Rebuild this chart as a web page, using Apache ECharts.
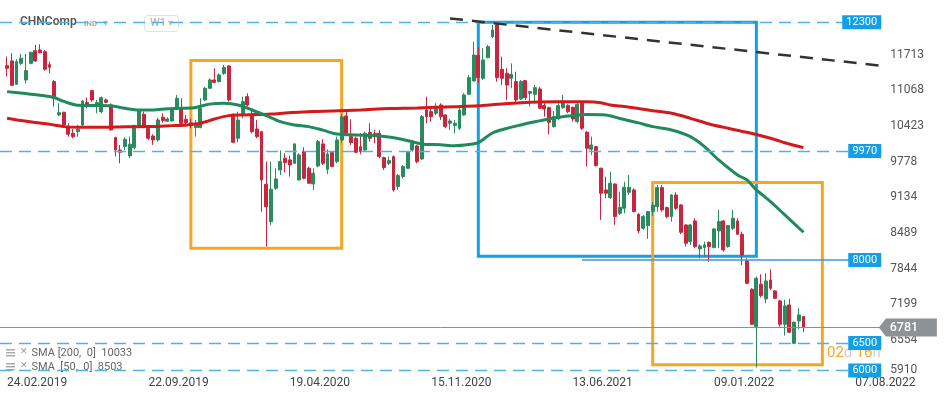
<!DOCTYPE html>
<html><head><meta charset="utf-8">
<script src="https://cdn.jsdelivr.net/npm/echarts@6/dist/echarts.min.js"></script>
<style>html,body{margin:0;padding:0;background:#fff;}#c{width:949px;height:400px;}</style>
</head><body><div id="c"></div>
<script>
// ---------- data ----------
const firstCategory = '17.02.2019';          // empty week before first candle
const firstCandleWeek = '24.02.2019';
const weekCount = 187;
const xTickLabels = ['24.02.2019','22.09.2019','19.04.2020','15.11.2020','13.06.2021','09.01.2022','07.08.2022'];
const yTickLabels = [5910,6554,7199,7844,8489,9134,9778,10423,11068,11713];

const opens = [11516,11600,11179,11558,11257,11558,11787,11799,11769,11534,
11227,10624,10672,10413,10293,10323,10443,10847,11064,10805,
10684,10895,10805,10214,9991,10052,9883,10034,10413,10636,
10383,10244,10172,10582,10510,10515,10744,10744,10546,10480,
10395,10395,10895,11106,11257,11226,11377,11510,10636,10202,
10624,10955,10624,10371,10322,9370,8695,9298,9629,9841,
9811,9750,9449,9961,9660,9377,9702,10100,9642,9943,
9780,10170,10606,10232,10202,10051,9991,10311,10292,10292,
9852,9750,9871,9328,9509,9660,9991,10063,9828,10714,
10684,10654,10805,10624,10473,10431,10383,10624,10998,11239,
11700,11287,11661,12040,12251,11450,11377,11287,11227,10913,
11245,11016,10998,11094,10793,10756,10413,10564,10756,10793,
10763,10504,10835,10311,10003,10051,9660,9268,9129,9376,
8846,8936,9226,9268,8828,8575,8623,8880,8966,9310,
8948,8786,9177,8997,8635,8334,8707,8201,8225,8321,
8225,8526,8707,8243,8575,8707,8466,7984,7472,6797,
7562,7297,7640,7442,7261,6839,7188,6495,6899,6978];
const closes = [11468,11160,11588,11649,11426,11757,11600,11751,11450,11486,
10925,10666,10443,10275,10232,10365,10877,10817,10895,10847,
10937,10853,10353,9991,9949,10184,10094,10431,10715,10413,
10202,10172,10534,10522,10552,10714,10925,10473,10485,10440,
10473,10744,11106,11257,11214,11347,11480,10895,10130,10533,
10865,10804,10322,10232,9448,8966,9280,9467,9780,9762,
9720,10100,9901,9479,9389,9570,10142,9750,9919,9690,
10172,10590,10292,10124,9949,9961,10292,10202,10250,9871,
9672,9798,9268,9527,9690,9949,10112,9780,10594,10594,
10594,10775,10594,10413,10515,10473,10714,10986,11299,11709,
11300,11618,11859,12161,11299,11287,11166,11359,10895,11227,
10937,11046,11118,10744,10732,10491,10594,10793,10853,10684,
10552,10817,10383,10021,10081,9708,9208,9208,9388,8786,
8954,9316,9316,8876,8527,8786,8876,8990,9310,8906,
8786,9177,8936,8502,8303,8635,8243,8255,8273,8243,
8563,8695,8183,8623,8756,8466,8092,7580,6839,7671,
7357,7622,7490,7309,6839,7170,6694,6875,7008,6781];
const highs = [11679,11739,11631,11727,11727,11769,11890,11902,11799,11588,
11257,10835,10684,10473,10371,10443,10895,10937,11076,10895,
10956,10925,10835,10232,10081,10220,10232,10449,10727,10684,
10413,10275,10576,10654,10582,10744,10985,10925,10624,10560,
10533,10925,11136,11287,11468,11377,11528,11528,10654,10684,
10955,11016,10714,10533,10322,9780,9780,9660,9979,9931,
9883,10112,9931,10040,9690,9660,10172,10184,10003,9961,
10232,10640,10684,10546,10232,10292,10323,10473,10353,10353,
9871,9871,9889,9557,9720,9961,10172,10081,10624,10955,
10732,10835,10835,10636,10552,10534,10744,11016,11347,11950,
11850,11829,11890,12251,12281,11679,11468,11558,11407,11257,
11257,11058,11166,11136,10835,10775,10696,10835,10985,10817,
10775,10835,10853,10335,10232,10063,9672,9509,9599,9388,
9238,9418,9539,9298,8846,8816,8888,9050,9358,9358,
8966,9189,9226,9009,8647,8647,8756,8285,8334,8334,
8575,8906,8725,8635,8906,8756,8514,8032,7490,7701,
7743,7761,7833,7460,7279,7279,7297,6887,7128,6990];
const lows = [11317,11155,11167,11528,11197,11540,11588,11739,11426,11377,
10775,10606,10413,10232,10202,10232,10425,10745,10865,10654,
10654,10835,10341,9871,9750,9991,9841,10003,10401,10383,
10172,10082,10142,10486,10504,10503,10714,10443,10413,10380,
10232,10383,10877,11094,11196,11214,11347,10865,10112,10130,
10564,10774,10292,10202,8876,8243,8635,9268,9539,9582,
9509,9738,9437,9461,9377,9268,9678,9720,9558,9678,
9750,10120,10262,10081,9931,9913,9961,10142,10112,9840,
9629,9720,9238,9268,9479,9648,9961,9750,9810,10473,
10503,10624,10533,10383,10353,10292,10353,10612,10986,11227,
11200,11257,11648,12010,11227,11166,10895,11106,10835,10895,
10895,10775,10835,10732,10594,10274,10395,10534,10732,10654,
10504,10473,10353,9690,9901,9690,8725,9117,9105,8635,
8816,8846,9178,8864,8484,8545,8382,8800,8876,8876,
8756,8695,8906,8466,8243,8273,8213,8032,8062,7972,
8213,8213,8153,8225,8545,8454,7912,7562,6827,6055,
7321,7219,7460,7297,6797,6634,6676,6477,6755,6694];

// moving averages (candle index -> value)
const sma50Idx = [0,4,8,10,12,15,19,22,25,28,31,34,37,40,43,46,49,52,55,58,61,64,67,70,74,78,81,84,88,92,95,98,100,103,106,109,112,116,120,123,127,130,134,137,141,145,148,151,155,157,159,162,165,169];
const sma50Val = [11046,11010,10970,10940,10870,10800,10795,10790,10745,10715,10715,10735,10744,10760,10820,10835,10805,10714,10612,10503,10443,10413,10350,10280,10262,10250,10226,10180,10100,10085,10069,10090,10124,10298,10380,10443,10500,10570,10610,10630,10624,10560,10480,10413,10353,10232,10051,9810,9539,9449,9268,9057,8820,8503];
const sma200Idx = [0,3,6,9,12,15,20,25,30,35,38,41,44,47,50,53,56,59,62,65,69,75,81,87,95,100,104,109,116,123,126,128,131,134,137,141,145,149,153,157,162,166,169];
const sma200Val = [10564,10522,10486,10455,10413,10401,10401,10410,10413,10431,10443,10473,10551,10612,10624,10630,10640,10658,10675,10688,10696,10714,10740,10750,10774,10790,10817,10846,10862,10862,10845,10805,10775,10740,10700,10654,10563,10461,10383,10310,10202,10099,10033];

// drawn levels and annotations
const dashedLevels = [12300, 9970, 6500, 6000];
const supportLevel = 8000;
const lastPrice = 6781;
const levelLabels = [12300, 9970, 8000, 6500, 6000];
const trendStart = ['13.12.2020', 12370];
const trendEndValue = 11519;
const supportStart = '27.06.2021';
const boxes = [
  {from:['24.11.2019', 11609], to:['05.07.2020', 8214], color:'#f5a623'},
  {from:['24.01.2021', 12300], to:['13.03.2022', 8070], color:'#12a0e6'},
  {from:['10.10.2021', 9403], to:['19.06.2022', 6104], color:'#f5a623'}
];

// ---------- build ----------
function fmt(d){const p=n=>String(n).padStart(2,'0');return p(d.getUTCDate())+'.'+p(d.getUTCMonth()+1)+'.'+d.getUTCFullYear();}
const [d0,m0,y0] = firstCategory.split('.').map(Number);
const t0 = Date.UTC(y0, m0-1, d0);
const categories = [];
for (let k=0;k<weekCount;k++) categories.push(fmt(new Date(t0 + k*7*86400000)));
const off = categories.indexOf(firstCandleWeek);

const candleData = categories.map((c,k)=>{const i=k-off; return (i>=0&&i<opens.length)?[opens[i],closes[i],lows[i],highs[i]]:['-','-','-','-'];});
function sparse(idx,val){const a=categories.map(()=>'-'); idx.forEach((i,j)=>{a[i+off]=val[j];}); return a;}
const sma50Data = sparse(sma50Idx, sma50Val);
const sma200Data = sparse(sma200Idx, sma200Val);
const labelCat = categories[183];
const lastCat = categories[weekCount-1];

const chart = echarts.init(document.getElementById('c'), null, {renderer:'canvas'});
chart.setOption({
  animation:false,
  textStyle:{fontFamily:'Roboto'},
  grid:{left:-1.4, top:0, width:882.64, height:375.6},
  xAxis:{type:'category', data:categories, boundaryGap:true,
    axisLine:{show:false}, axisTick:{show:false}, splitLine:{show:false},
    axisLabel:{interval:(idx,val)=>xTickLabels.includes(val), align:'left', color:'#444', fontSize:12, margin:1}},
  yAxis:{type:'value', position:'right', min:5910, max:12703, scale:true,
    axisLine:{show:false}, axisTick:{show:false}, splitLine:{show:false},
    axisLabel:{customValues:yTickLabels, formatter:v=>String(Math.round(v)), color:'#555', fontSize:12, margin:9, verticalAlignMinLabel:'bottom'}},
  series:[
    {type:'candlestick', data:candleData, barWidth:3.4, z:2,
      itemStyle:{color:'#2b8a5e', color0:'#c8263e', borderColor:'#2b8a5e', borderColor0:'#c8263e', borderWidth:1},
      markLine:{silent:true, symbol:'none', animation:false, label:{show:false},
        data:[
          ...dashedLevels.map(v=>({yAxis:v, lineStyle:{color:'#4fb3e4', type:[12,7], width:1.3}})),
          {yAxis:lastPrice, lineStyle:{color:'#8e8e8e', type:'solid', width:1}}
        ]}
    },
    {type:'line', name:'SMA200', data:sma200Data, connectNulls:true, smooth:0.3, showSymbol:false, z:3,
      lineStyle:{color:'#d21a1c', width:3}},
    {type:'line', name:'SMA50', data:sma50Data, connectNulls:true, smooth:0.3, showSymbol:false, z:3,
      lineStyle:{color:'#1f8a5b', width:3}},
    {type:'line', name:'annotations', data:categories.map(()=>'-'), z:5, silent:true,
      markArea:{silent:true, data:boxes.map(b=>[
        {coord:b.from, itemStyle:{color:'rgba(0,0,0,0)', borderColor:b.color, borderWidth:3}},
        {coord:b.to}])},
      markLine:{silent:true, symbol:'none', label:{show:false}, data:[
        [{coord:[supportStart, supportLevel], lineStyle:{color:'#3a97dc', type:'solid', width:1.5}}, {coord:[lastCat, supportLevel]}],
        [{coord:trendStart, lineStyle:{color:'#333', type:[13,9], width:2.5}}, {coord:[lastCat, trendEndValue]}]
      ]},
      markPoint:{silent:true, data:[
        ...levelLabels.map(v=>({coord:[labelCat, v], value:v, symbol:'rect',
          symbolSize:[v>=10000?39:33, 14], symbolOffset:[v>=10000?-3:0, 0],
          itemStyle:{color:'#139fe8'},
          label:{show:true, position:'inside', color:'#fff', fontSize:11, formatter:'{c}'}})),
        {coord:[lastCat, lastPrice], value:lastPrice, symbol:'path://M0,9L7,0L58,0L58,18L7,18Z',
          symbolKeepAspect:false, symbolSize:[58,18], symbolOffset:[29,0], itemStyle:{color:'#8d9297'},
          label:{show:true, position:'inside', color:'#fff', fontSize:12.5, fontWeight:500, offset:[-4,0], formatter:'{c}'}}
      ]}
    }
  ],
  graphic:[
    {type:'text', left:20, top:16, style:{text:'CHNComp', fill:'#555', font:'600 12px Roboto'}},
    {type:'text', left:84, top:20, style:{text:'IND', fill:'#aaa', font:'bold 8px Roboto'}},
    {type:'text', left:103, top:18, style:{text:'▾', fill:'#bbb', font:'10px DejaVu Sans'}},
    {type:'rect', shape:{x:144.5, y:15.5, width:34, height:16, r:3}, style:{fill:'#fff', stroke:'#e2e2e2', lineWidth:1}},
    {type:'text', left:150, top:18, style:{text:'W1', fill:'#aaa', font:'11px Roboto'}},
    {type:'text', left:168, top:18, style:{text:'▾', fill:'#bbb', font:'10px DejaVu Sans'}},
    {type:'rect', shape:{x:6, y:349, width:9, height:1.5}, style:{fill:'#aaa'}},
    {type:'rect', shape:{x:6, y:352, width:9, height:1.5}, style:{fill:'#aaa'}},
    {type:'rect', shape:{x:6, y:355, width:9, height:1.5}, style:{fill:'#aaa'}},
    {type:'text', left:20, top:347, style:{text:'✕', fill:'#999', font:'bold 9px DejaVu Sans'}},
    {type:'text', left:31.5, top:348, style:{text:'SMA [200,  0]  '+sma200Val[sma200Val.length-1], fill:'#666', font:'11px Roboto'}},
    {type:'rect', shape:{x:6, y:363, width:9, height:1.5}, style:{fill:'#aaa'}},
    {type:'rect', shape:{x:6, y:366, width:9, height:1.5}, style:{fill:'#aaa'}},
    {type:'rect', shape:{x:6, y:369, width:9, height:1.5}, style:{fill:'#aaa'}},
    {type:'text', left:20, top:361, style:{text:'✕', fill:'#999', font:'bold 9px DejaVu Sans'}},
    {type:'text', left:31.5, top:362, style:{text:'SMA  [50,  0]  '+sma50Val[sma50Val.length-1], fill:'#666', font:'11px Roboto'}},
    {type:'text', left:827, top:346, style:{text:'{o|02}{g|d} {o|16}{g|h}', rich:{o:{fill:'#f5a623', font:'15px Roboto'}, g:{fill:'#cfcfcf', font:'15px Roboto'}}}}
  ]
});
</script>
</body></html>
